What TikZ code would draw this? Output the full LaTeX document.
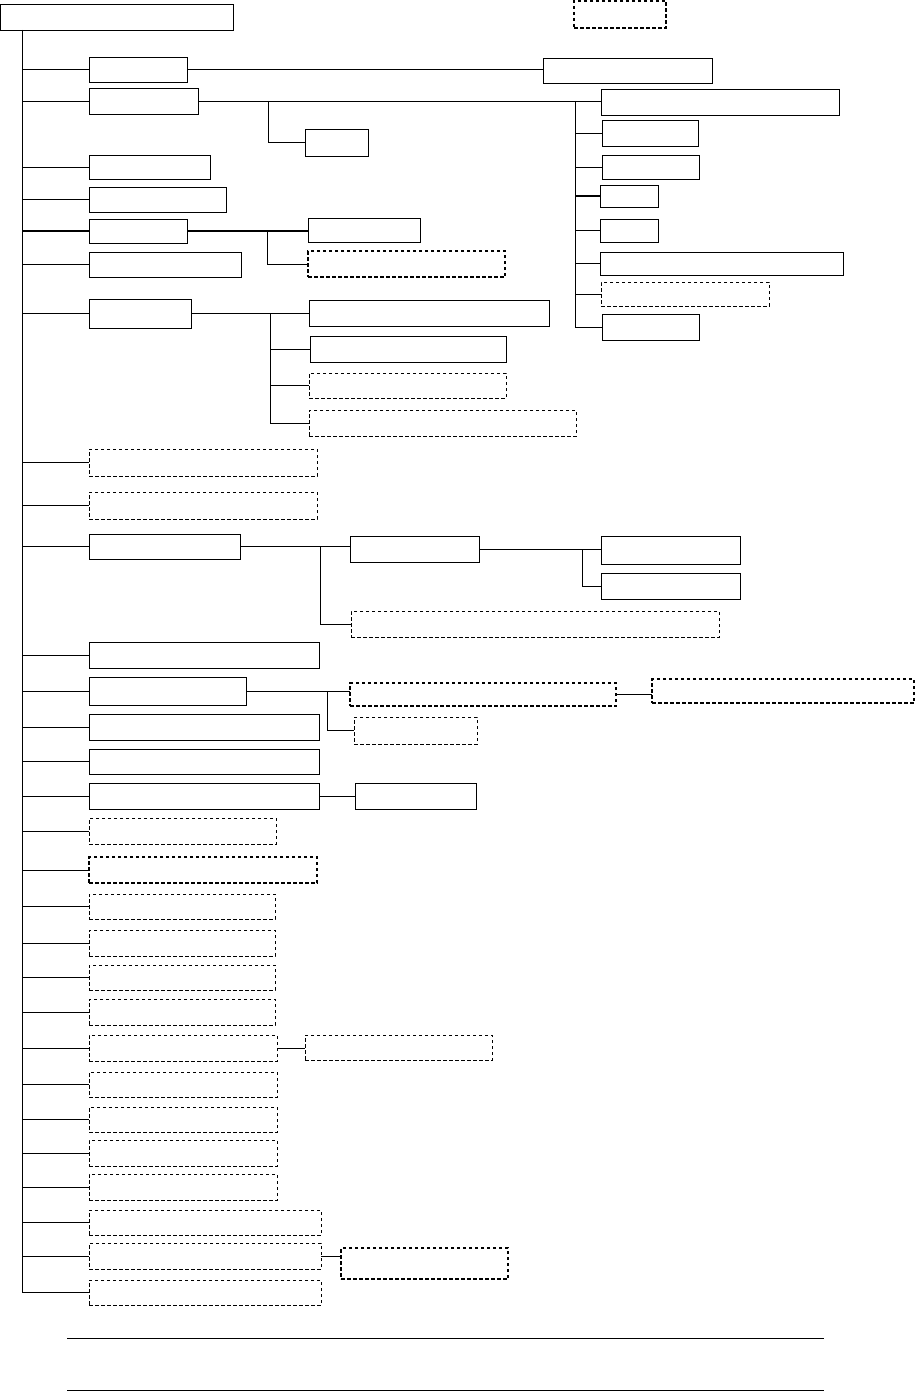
\documentclass[tikz,border=0pt]{standalone}
\begin{document}
\begin{tikzpicture}[x=1pt,y=-1pt,
  sb/.style={draw,line width=0.9pt,inner sep=0pt,outer sep=0pt},
  db/.style={draw,line width=0.8pt,dash pattern=on 3.5pt off 2.5pt,inner sep=0pt,outer sep=0pt},
  dbk/.style={db,line width=1.3pt},
  ln/.style={line width=0.9pt},
  tk/.style={line width=1.9pt}]
\useasboundingbox (0,0) rectangle (915,1391);
\newcommand\bx[6]{%
  \pgfmathsetmacro\mybw{#4-#2}\pgfmathsetmacro\mybh{#5-#3}%
  \node[#6,anchor=north west,minimum width=\mybw pt,minimum height=\mybh pt] (#1) at (#2,#3) {};}
% boxes
\bx{root}{0}{4}{233}{30}{sb}
\bx{T}{574}{1}{666}{28}{dbk}
\bx{A1}{89}{57}{187}{82}{sb}
\bx{R1}{543}{58}{712}{83}{sb}
\bx{A2}{89}{88}{198}{114}{sb}
\bx{B0}{305}{129}{368}{156}{sb}
\bx{R2}{601}{89}{839}{115}{sb}
\bx{R3}{602}{120}{698}{146}{sb}
\bx{R4}{602}{155}{699}{179}{sb}
\bx{R5}{600}{185}{658}{207}{sb}
\bx{R6}{600}{219}{658}{242}{sb}
\bx{R7}{600}{252}{843}{275}{sb}
\bx{R8}{601}{282}{769}{306}{db}
\bx{R9}{602}{314}{699}{340}{sb}
\bx{A3}{89}{155}{210}{179}{sb}
\bx{A4}{89}{187}{226}{212}{sb}
\bx{A5}{89}{219}{187}{243}{sb}
\bx{A5a}{308}{218}{420}{242}{sb}
\bx{A5b}{308}{251}{505}{277}{dbk}
\bx{A6}{89}{252}{241}{277}{sb}
\bx{A7}{89}{299}{191}{328}{sb}
\bx{A7a}{309}{300}{549}{326}{sb}
\bx{A7b}{310}{336}{506}{362}{sb}
\bx{A7c}{309}{373}{506}{398}{db}
\bx{A7d}{309}{410}{576}{436}{db}
\bx{A8}{89}{449}{317}{476}{db}
\bx{A9}{89}{492}{317}{519}{db}
\bx{A10}{89}{534}{240}{559}{sb}
\bx{C1}{350}{536}{479}{562}{sb}
\bx{C1a}{601}{536}{740}{564}{sb}
\bx{C1b}{601}{573}{740}{599}{sb}
\bx{C2}{351}{611}{719}{637}{db}
\bx{A11}{89}{642}{319}{668}{sb}
\bx{A12}{89}{677}{246}{705}{sb}
\bx{D1}{350}{683}{616}{706}{dbk}
\bx{D2}{652}{679}{914}{703}{dbk}
\bx{D3}{354}{717}{477}{744}{db}
\bx{A13}{89}{714}{319}{740}{sb}
\bx{A14}{89}{749}{319}{774}{sb}
\bx{A15}{89}{783}{319}{809}{sb}
\bx{E}{355}{783}{476}{809}{sb}
\bx{F1}{89}{818}{276}{844}{db}
\bx{F2}{89}{857}{317}{883}{dbk}
\bx{F3}{89}{894}{275}{919}{db}
\bx{F4}{89}{930}{275}{956}{db}
\bx{F5}{89}{965}{275}{990}{db}
\bx{F6}{89}{999}{275}{1025}{db}
\bx{F7}{89}{1035}{277}{1061}{db}
\bx{G}{305}{1035}{492}{1060}{db}
\bx{F8}{89}{1072}{277}{1097}{db}
\bx{F9}{89}{1107}{277}{1132}{db}
\bx{F10}{89}{1140}{277}{1166}{db}
\bx{F11}{89}{1174}{277}{1200}{db}
\bx{F12}{89}{1210}{321}{1235}{db}
\bx{F13}{89}{1243}{321}{1269}{db}
\bx{H}{341}{1248}{508}{1279}{dbk}
\bx{F14}{89}{1280}{321}{1305}{db}
% trunk
\coordinate (t0) at (22,30);
\draw[ln] (t0) -- (F14.west -| t0);
\foreach \n in {A2,A3,A4,A6,A7,A8,A10,A11,A12,A13,A14,A15,F1,F2,F3,F4,F5,F6,F7,F9,F10,F11,F13}
  \draw[ln] (\n.west) -- (\n.west -| t0);
\foreach \n in {A1,A5,A9,F8,F12,F14}
  \draw[tk] (\n.west) -- (\n.west -| t0);
% A1
\draw[tk] (A1.east) -- (A1.east -| R1.west);
% A2 branch
\coordinate (v2) at (268,0);
\coordinate (vr) at (575,0);
\draw[ln] (A2.east) -- (A2.east -| R2.west);
\draw[ln] (A2.east -| v2) |- (B0.west);
\draw[ln] (A2.east -| vr) |- (R9.west);
\foreach \n in {R3,R4,R7,R8}
  \draw[ln] (\n.west) -- (\n.west -| vr);
\foreach \n in {R5,R6}
  \draw[tk] (\n.west) -- (\n.west -| vr);
% A5 branch
\coordinate (v5) at (267,0);
\draw[tk] (A5.east) -- (A5.east -| A5a.west);
\draw[ln] (A5.east -| v5) |- (A5b.west);
% A7 branch
\coordinate (v7) at (270,0);
\draw[ln] (A7.east) -- (A7.east -| A7a.west);
\draw[ln] (A7.east -| v7) |- (A7d.west);
\foreach \n in {A7b,A7c}
  \draw[ln] (\n.west) -- (\n.west -| v7);
% A10 branch
\coordinate (v10) at (320,0);
\coordinate (v11) at (582,0);
\draw[ln] (A10.east) -- (A10.east -| C1.west);
\draw[ln] (A10.east -| v10) |- (C2.west);
\draw[ln] (C1.east) -- (C1.east -| C1a.west);
\draw[ln] (C1.east -| v11) |- (C1b.west);
% A12 branch
\coordinate (v12) at (327,0);
\draw[ln] (A12.east) -- (A12.east -| D1.west);
\draw[ln] (A12.east -| v12) |- (D3.west);
\draw[ln] (D1.east) -- (D1.east -| D2.west);
% others
\draw[ln] (A15.east) -- (E.west);
\draw[ln] (F7.east) -- (F7.east -| G.west);
\draw[ln] (F13.east) -- (F13.east -| H.west);
% bottom rules
\draw[ln] (67,1338) -- (824,1338);
\draw[ln] (67,1390) -- (824,1390);
\end{tikzpicture}
\end{document}
